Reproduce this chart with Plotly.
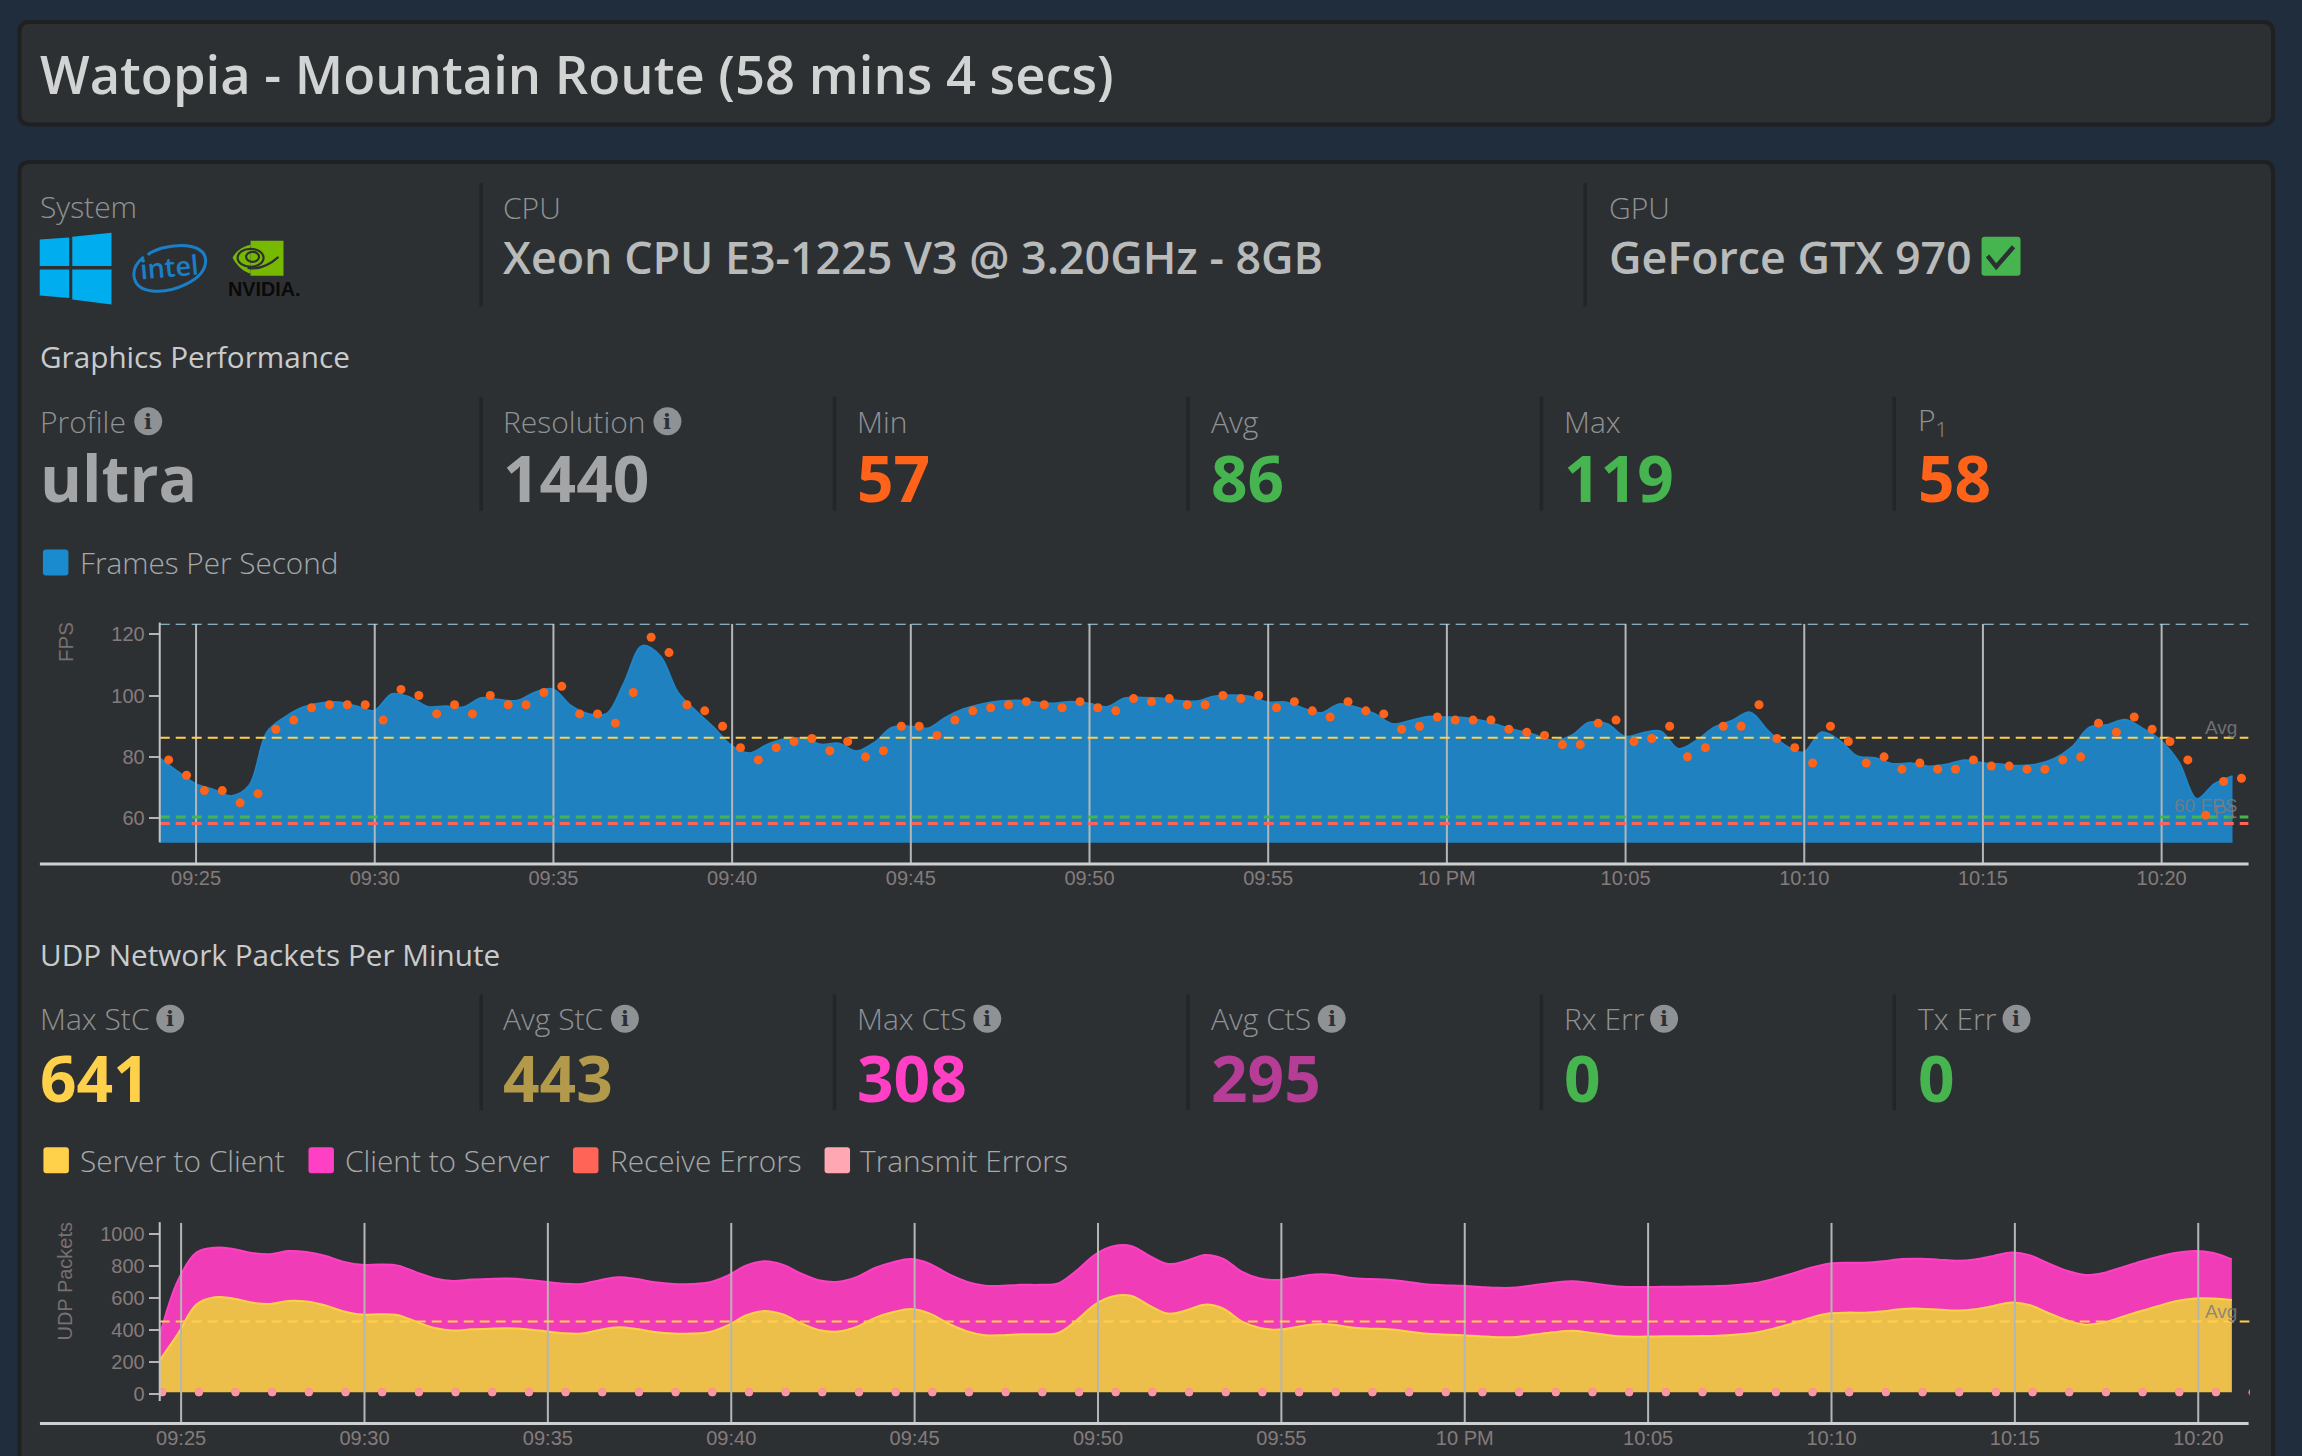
import pandas as pd
import plotly.graph_objects as go

W, H = 2302, 1456

# ---------- data ----------
fps_points = [79,74,69,69,65,68,89,92,96,97,97,97,92,102,100,94,97,94,100,97,97,101,103,94,94,91,101,119,114,97,95,90,83,79,83,85,
              86,82,85,80,82,90,90,87,92,95,96,97,98,97,96,98,96,95,99,98,99,97,97,100,99,100,96,98,95,93,98,95,94,89,90,93,92,92,92,89,88,87,84,
              84,91,92,85,86,90,80,83,90,90,97,86,83,78,90,85,78,80,76,78,76,76,79,77,77,76,76,79,80,91,88,93,89,85,79,61,72,73]
fps_area = [79.5,75.2,71.2,69.3,67.2,70.6,88,92.9,96.1,97.5,97.8,96.5,95,100.5,99.4,96.3,96.5,96.2,99.2,98.6,98.3,101,102.1,96.7,94,94,104.3,116.2,112.9,101,95,89.6,83.6,81.2,84,85.8,
            86,84,84.4,81.8,84.7,89.6,89.9,89.3,92.9,95.6,97.2,98.1,98.4,97.8,97.4,98,97.4,96.3,99.1,99.3,99.1,98.3,98.1,99.7,100.1,99.7,97.8,97.8,95.8,94.3,97.2,96.1,94,90.7,91.8,93.1,92.9,92.8,91.8,90.2,88.5,87.1,
            85.3,86.9,91.2,90.7,86.6,87.8,88.3,82.6,85.3,89.6,91.8,94.5,88.5,83.6,81.5,88,85.3,80.2,79.6,77.7,77.9,76.9,77.5,78.9,78,77.6,77.1,77.5,79.3,83.1,89.6,90.4,92.1,89.1,85.3,78.2,66.3,71.2,73.7]
fps_floor = 52
fps_avg, fps_sixty, fps_p1, fps_top = 86.2, 60.4, 58.3, 123.4

server_to_client = [208,375,556,602,594,569,560,579,575,552,515,494,496,490,448,410,394,402,406,408,402,390,377,375,398,415,404,385,375,375,385,427,490,517,494,
                    438,396,388,417,473,510,529,500,438,390,365,365,371,371,379,458,556,608,610,548,500,521,556,531,452,410,400,417,433,431,413,406,402,390,375,369,365,358,352,354,369,383,392,381,
                    365,356,356,358,358,360,362,369,381,406,438,473,500,506,506,515,529,531,525,519,527,548,569,552,504,458,431,444,479,515,548,579,594,594,585]
client_to_server = [156,333,325,310,310,310,311,312,310,310,310,311,311,310,310,310,310,311,311,311,310,310,310,310,311,312,312,311,310,310,311,312,312,311,311,
                    311,311,311,311,312,312,312,311,310,310,309,309,309,309,310,311,312,313,312,311,310,310,311,311,311,310,310,311,311,311,310,310,310,310,309,309,309,309,309,309,310,310,311,311,
                    311,311,310,310,310,310,310,310,310,311,311,312,312,312,312,312,312,312,312,312,312,313,313,312,310,310,310,310,310,310,308,302,298,285,254]
udp_floor = 8
udp_avg = 450
errors_level = [8] * 58

fps_ticks = pd.date_range("2018-06-01 21:25", periods=12, freq="5min")
tick_labels = ["09:25","09:30","09:35","09:40","09:45","09:50","09:55","10 PM","10:05","10:10","10:15","10:20"]

# ---------- palette ----------
PAGE = "#202d3d"; PANEL = "#2d3033"; EDGE = "#1e2022"; DIV = "#232528"
BLUE = "#1f81bf"; ORANGE = "#ff6319"; GREEN = "#47b54f"; YELLOW = "#ffd04a"
PINK = "#ff40c4"; RED = "#ff6457"; ROSE = "#ffa7b2"
SANS = "Open Sans"; ARIAL = "Liberation Sans"
AXIS_TXT = "#857b7b"; GRID = "#b4b6b6"

# small global offset to line the page up with the reference
DX, DY = 3.0, 2.0
def X(p): return (p - DX) / W
def Y(p): return 1 - (p - DY) / H

def rr(x0, y0, x1, y1, r):
    a, b, c, d = X(x0), Y(y0), X(x1), Y(y1)
    rx, ry = r / W, r / H
    return (f"M {a+rx} {b} L {c-rx} {b} Q {c} {b} {c} {b-ry} L {c} {d+ry} Q {c} {d} {c-rx} {d} "
            f"L {a+rx} {d} Q {a} {d} {a} {d+ry} L {a} {b-ry} Q {a} {b} {a+rx} {b} Z")

def poly(pts):
    return "M " + " L ".join(f"{X(x)} {Y(y)}" for x, y in pts) + " Z"

def curve(cmds):
    out = []
    for c, pts in cmds:
        out.append(c + " " + " ".join(f"{X(x)} {Y(y)}" for x, y in pts))
    return " ".join(out)

def ell(cx, cy, rx, ry):
    k = 0.5523
    x, y = X(cx), Y(cy); a, b = rx / W, ry / H
    return (f"M {x-a} {y} C {x-a} {y+k*b} {x-k*a} {y+b} {x} {y+b} C {x+k*a} {y+b} {x+a} {y+k*b} {x+a} {y} "
            f"C {x+a} {y-k*b} {x+k*a} {y-b} {x} {y-b} C {x-k*a} {y-b} {x-a} {y-k*b} {x-a} {y} Z")

shapes, notes = [], []

def path(d, fill=None, line=None, width=0, layer="below"):
    shapes.append(dict(type="path", path=d, xref="paper", yref="paper", layer=layer,
                       fillcolor=fill or "rgba(0,0,0,0)",
                       line=dict(color=line or "rgba(0,0,0,0)", width=width)))

def seg(x0, y0, x1, y1, color, width, layer="below"):
    shapes.append(dict(type="line", xref="paper", yref="paper", layer=layer,
                       x0=X(x0), y0=Y(y0), x1=X(x1), y1=Y(y1), line=dict(color=color, width=width)))

def text(x, y, s, size, color, weight=400, family=SANS, anchor="left", angle=0):
    notes.append(dict(x=X(x), y=Y(y), xref="paper", yref="paper", text=s, showarrow=False,
                      xanchor=anchor, yanchor="middle", borderpad=0, borderwidth=0, textangle=angle,
                      font=dict(family=family, size=size, color=color, weight=weight)))

# ---------- panels ----------
path(rr(18.5, 23, 2276, 125.5, 10), PANEL, EDGE, 4)
path(rr(18.5, 163, 2276, 1490, 10), PANEL, EDGE, 4)

# ---------- header ----------
text(39, 75, "Watopia - Mountain Route (58 mins 4 secs)", 52.5, "#d2d4d4", 600)
LABEL = "#8f9294"; LSIZE = 30
text(39, 208, "System", LSIZE, LABEL, 300)
text(503, 208.5, "CPU", LSIZE, LABEL, 300)
text(1611, 208.5, "GPU", LSIZE, LABEL, 300)
text(503, 258, "Xeon CPU E3-1225 V3 @ 3.20GHz - 8GB", 44.8, "#b9bbbb", 600)
text(1611, 258, "GeForce GTX 970", 44.8, "#b9bbbb", 600)
path(rr(1984, 238, 2023, 277, 3), GREEN)
path(f"M {X(1990)} {Y(257)} L {X(1998.7)} {Y(268)} L {X(2016)} {Y(248)}", None, PANEL, 4.5, "above")
for x in (481, 1587):
    seg(x, 184, x, 308, DIV, 3.5)

# logos
WIN = "#00adef"
for pts in ([(38.8,240.7),(68.3,238.7),(68.3,267.3),(38.8,267.3)], [(71.4,238),(110.7,234),(110.7,267.3),(71.4,267.3)],
            [(38.8,270.7),(68.3,270.7),(68.3,299.3),(38.8,296.7)], [(71.4,270.7),(110.7,270.7),(110.7,305.7),(71.4,300.7)]):
    path(poly(pts), WIN)
INTEL = "#1a7fc8"
path(curve([("M", [(147, 256)]), ("C", [(160, 245), (205, 240), (205, 262)]), ("C", [(205, 282), (170, 295), (150, 292)]),
            ("C", [(130, 289), (128, 270), (143, 258)])]), None, INTEL, 3)
text(168, 268, "intel", 27, INTEL, 600, SANS, "center", -5)
NV = "#76b900"
path(rr(250, 242, 283, 277, 0), NV)
path(curve([("M", [(250, 246)]), ("C", [(241, 248), (235, 253), (232, 259)]), ("C", [(236, 267), (243, 273), (250, 275)])]) + " Z", NV)
path(ell(250, 259, 13, 9), None, PANEL, 2.2, "above")
path(ell(252, 258, 6.5, 5), None, PANEL, 2.2, "above")
path(curve([("M", [(247, 269)]), ("C", [(258, 271), (268, 267), (278, 258)])]), None, PANEL, 2.2, "above")
text(264, 290, "NVIDIA.", 19.8, "#0a0a0a", 700, ARIAL, "center")

def info(cx, cy):
    path(ell(cx, cy, 14, 14), LABEL)
    text(cx, cy, "i", 21, PANEL, 900, "DejaVu Serif", "center")

# ---------- graphics stat row ----------
text(39, 358, "Graphics Performance", 29.7, "#c9cbcb")
for x, lab, val, col, ic in ((39, "Profile", "ultra", "#a3a5a7", 147.5), (503, "Resolution", "1440", "#a3a5a7", 667.6),
                             (857, "Min", "57", ORANGE, None), (1212, "Avg", "86", GREEN, None),
                             (1566, "Max", "119", GREEN, None), (1920, "P<sub>1</sub>", "58", ORANGE, None)):
    text(x, 422.5, lab, LSIZE, LABEL, 300)
    text(x, 479, val, 64, col, 700)
    if ic: info(ic, 422.5)
for x in (481, 835, 1189, 1543, 1896.5):
    seg(x, 398, x, 512, DIV, 3.5)
path(rr(42, 551, 67.5, 577, 3), "#1b8bd0")
text(79, 564, "Frames Per Second", 29.7, "#a6a8a9", 300)

# ---------- network stat row ----------
text(39, 956, "UDP Network Packets Per Minute", 29.7, "#c9cbcb")
for x, lab, val, col, ic in ((39, "Max StC", "641", YELLOW, 169.5), (503, "Avg StC", "443", "#b39a4a", 625),
                             (857, "Max CtS", "308", PINK, 988), (1212, "Avg CtS", "295", "#b53d96", 1333),
                             (1566, "Rx Err", "0", GREEN, 1666), (1920, "Tx Err", "0", GREEN, 2019)):
    text(x, 1020.5, lab, LSIZE, LABEL, 300)
    text(x, 1079, val, 64, col, 700)
    info(ic, 1020.5)
for x in (481, 835, 1189, 1543, 1896.5):
    seg(x, 996, x, 1112, DIV, 3.5)
for x0, tx, col, lab in ((42.5, 79, YELLOW, "Server to Client"), (308, 344.5, PINK, "Client to Server"),
                         (573, 610, RED, "Receive Errors"), (825, 860.5, ROSE, "Transmit Errors")):
    path(rr(x0, 1149, x0 + 25.5, 1175, 3), col)
    text(tx, 1162, lab, 29.8, "#a6a8a9", 300)

# ---------- axis furniture ----------
seg(39, 865.5, 2251.5, 865.5, "#cfcfcf", 3, "above")
seg(39, 1425.5, 2251.5, 1425.5, "#cfcfcf", 3, "above")
seg(159, 624, 159, 844, "#c4c4c4", 2, "above")
seg(159, 1224, 159, 1403, "#c4c4c4", 2, "above")
text(64.5, 643, "FPS", 20.5, "#787070", 400, ARIAL, "center", -90)
text(64.5, 1283, "UDP Packets", 20, "#787070", 400, ARIAL, "center", -90)
AVGC = "rgba(125,125,125,0.85)"
text(2240, 729, "Avg", 19, AVGC, 400, ARIAL, "right")
text(2240, 807, "60 FPS", 19, AVGC, 400, ARIAL, "right")
text(2240, 813, "P1", 19, AVGC, 400, ARIAL, "right")
text(2240, 1313, "Avg", 19, AVGC, 400, ARIAL, "right")

# ---------- traces ----------
fig = go.Figure()
t_area = pd.date_range("2018-06-01 21:23:59", periods=len(fps_area), freq="30s")
t_dots = pd.date_range("2018-06-01 21:24:14", periods=len(fps_points), freq="30s")
fps_rng = ["2018-06-01 21:23:59", "2018-06-01 22:22:26"]
base = dict(hoverinfo="skip", showlegend=False)

fig.add_trace(go.Scatter(x=t_area, y=[fps_floor] * len(t_area), mode="lines", line=dict(width=0), **base))
fig.add_trace(go.Scatter(x=t_area, y=fps_area, mode="lines", fill="tonexty", fillcolor=BLUE,
                         line=dict(color="#1e86c8", width=2, shape="spline", smoothing=1), **base))

def vgrid(ticks, lo, hi, xa, ya):
    xs, ys = [], []
    for t in ticks:
        xs += [t, t, None]; ys += [lo, hi, None]
    fig.add_trace(go.Scatter(x=xs, y=ys, mode="lines", line=dict(color=GRID, width=2), xaxis=xa, yaxis=ya, **base))

def hdash(rng, val, col, w, xa, ya):
    fig.add_trace(go.Scatter(x=rng, y=[val, val], mode="lines", line=dict(color=col, width=w, dash="10px,6px"),
                             xaxis=xa, yaxis=ya, **base))

vgrid(fps_ticks, 45.1, 123.4, "x", "y")
hdash(fps_rng, fps_top, "#a3d6e6", 2, "x", "y")
hdash(fps_rng, fps_avg, YELLOW, 2, "x", "y")
hdash(fps_rng, fps_sixty, GREEN, 3, "x", "y")
hdash(fps_rng, fps_p1, RED, 3, "x", "y")
fig.add_trace(go.Scatter(x=t_dots, y=fps_points, mode="markers", marker=dict(color=ORANGE, size=9), **base))

# UDP
t_udp = pd.date_range("2018-06-01 21:24:25", periods=len(server_to_client), freq="30s")
t_err = pd.date_range("2018-06-01 21:24:29", periods=len(errors_level), freq="1min")
udp_rng = ["2018-06-01 21:24:25", "2018-06-01 22:21:24"]
stack_top = [a + b for a, b in zip(server_to_client, client_to_server)]
ax2 = dict(xaxis="x2", yaxis="y2")
fig.add_trace(go.Scatter(x=t_udp, y=[udp_floor] * len(t_udp), mode="lines", line=dict(width=0), **ax2, **base))
fig.add_trace(go.Scatter(x=t_udp, y=server_to_client, mode="lines", fill="tonexty", fillcolor="#ecbf4a",
                         line=dict(color=YELLOW, width=2, shape="spline", smoothing=1), **ax2, **base))
fig.add_trace(go.Scatter(x=t_udp, y=stack_top, mode="lines", fill="tonexty", fillcolor="#f03cb6",
                         line=dict(color=PINK, width=2, shape="spline", smoothing=1), **ax2, **base))
vgrid(fps_ticks, -187.5, 1068, "x2", "y2")
hdash(udp_rng, udp_avg, YELLOW, 2, "x2", "y2")
fig.add_trace(go.Scatter(x=t_err, y=errors_level, mode="markers", marker=dict(color=RED, size=8), **ax2, **base))
fig.add_trace(go.Scatter(x=t_err, y=errors_level, mode="markers", marker=dict(color="#fb97a4", size=8), **ax2, **base))

xcommon = dict(type="date", tickmode="array", tickvals=fps_ticks, ticktext=tick_labels, showgrid=False, zeroline=False,
               showline=False, ticks="", tickfont=dict(family=ARIAL, size=20, color=AXIS_TXT))
ycommon = dict(showgrid=False, zeroline=False, showline=False, ticks="outside", ticklen=10, tickwidth=2,
               tickcolor="#b4b4b4", tickfont=dict(family=ARIAL, size=20, color=AXIS_TXT))

fig.update_layout(
    width=W, height=H, autosize=False, margin=dict(l=0, r=0, t=0, b=0),
    paper_bgcolor=PAGE, plot_bgcolor="rgba(0,0,0,0)", showlegend=False,
    shapes=shapes, annotations=notes, hovermode=False,
    xaxis=dict(domain=[X(159), X(2251.5)], range=fps_rng, anchor="y", **xcommon),
    yaxis=dict(domain=[Y(865.5), Y(625.2)], range=[45.1, 123.4], tickvals=[60, 80, 100, 120], anchor="x", **ycommon),
    xaxis2=dict(domain=[X(159), X(2252.5)], range=udp_rng, anchor="y2", **xcommon),
    yaxis2=dict(domain=[Y(1425.5), Y(1224.5)], range=[-187.5, 1068.75], tickvals=[0, 200, 400, 600, 800, 1000], anchor="x2", **ycommon),
)

fig.write_html("out.html", config=dict(displayModeBar=False),
               post_script="document.body.style.margin='0';document.body.style.overflow='hidden';document.body.style.background='#202d3d';")
